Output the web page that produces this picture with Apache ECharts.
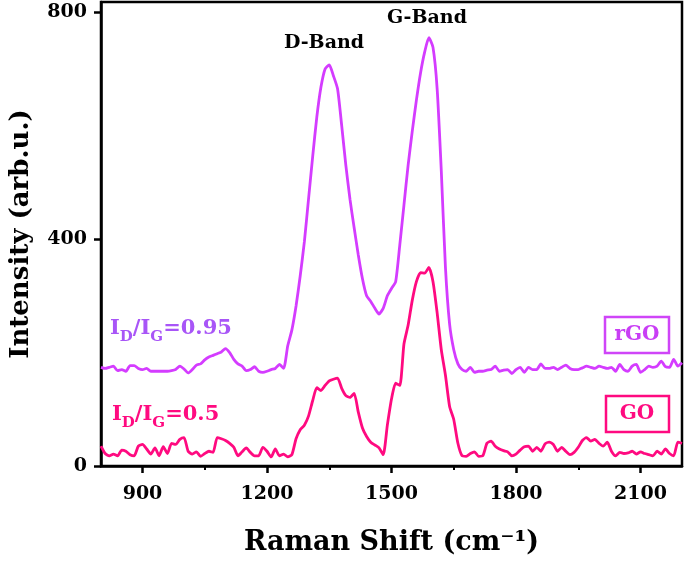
<!DOCTYPE html>
<html><head><meta charset="utf-8">
<script src="https://cdn.jsdelivr.net/npm/echarts@6/dist/echarts.min.js"></script>
<style>html,body{margin:0;padding:0;background:#fff}#c{width:685px;height:561px}</style>
</head><body><div id="c"></div>
<script>
const ramanShift = [800,810,820,830,840,850,860,870,880,890,900,910,920,930,940,950,960,970,980,990,
1000,1010,1020,1030,1040,1050,1060,1070,1080,1090,1100,1110,1120,1130,1140,1150,1160,1170,1180,1190,
1200,1210,1220,1230,1240,1250,1260,1270,1280,1290,1300,1310,1320,1330,1340,1350,1360,1370,1380,1390,
1400,1410,1420,1430,1440,1450,1460,1470,1480,1490,1500,1510,1520,1530,1540,1550,1560,1570,1580,1590,
1600,1610,1620,1630,1640,1650,1660,1670,1680,1690,1700,1710,1720,1730,1740,1750,1760,1770,1780,1790,
1800,1810,1820,1830,1840,1850,1860,1870,1880,1890,1900,1910,1920,1930,1940,1950,1960,1970,1980,1990,
2000,2010,2020,2030,2040,2050,2060,2070,2080,2090,2100,2110,2120,2130,2140,2150,2160,2170,2180,2190,2200];

const rGO = [174,172,174,176,168,170,167,177,177,172,170,172,167,167,167,167,167,168,170,176,
171,164,170,178,180,187,192,195,198,201,207,200,188,180,176,168,170,175,167,165,
167,170,172,179,172,212,240,282,335,395,470,545,615,668,700,707,688,665,600,530,
470,420,372,330,300,290,278,268,278,300,313,325,390,460,530,590,645,693,730,755,
738,665,520,350,250,205,180,170,167,174,165,167,167,169,170,176,167,169,170,163,
170,174,165,174,170,170,180,172,172,174,170,174,178,172,170,170,173,176,174,172,
176,174,172,174,167,179,170,167,176,179,165,170,176,174,176,185,175,174,188,176,182];

const GO = [35,22,18,21,18,28,26,20,18,35,38,30,21,32,18,34,22,40,38,47,
50,26,21,25,17,22,26,24,50,48,45,40,33,18,25,32,24,18,18,33,
26,16,30,18,21,16,20,48,64,72,88,115,138,133,142,150,153,155,137,124,
121,128,95,67,52,42,37,32,20,72,118,146,142,215,248,292,325,341,340,350,
325,270,205,160,105,82,40,18,17,22,25,17,18,40,44,35,30,27,25,18,
21,28,34,35,26,33,26,39,42,38,26,33,26,20,24,33,45,50,44,47,
40,35,42,26,18,24,22,23,26,21,25,22,20,18,26,21,30,22,18,42,40];

const xTickLabels = [900,1200,1500,1800,2100];
const xMinorTicks = [1050,1350,1650,1950];
const yTickLabels = [0,400,800];

const FONT = 'DejaVu Serif';
const C_RGO = '#D43CFF';
const C_RGO_TXT = '#A855F7';
const C_GO = '#FF0A80';

const measureCtx = document.createElement('canvas').getContext('2d');
function textW(t, size) {
  measureCtx.font = 'bold ' + size + 'px "DejaVu Serif"';
  return measureCtx.measureText(t).width;
}
function ratioLabel(x0, yMid, pieces, color) {
  const out = [];
  let x = x0;
  pieces.forEach(([t, sub]) => {
    const size = sub ? 15 : 21;
    out.push({type: 'text', x: x, y: sub ? yMid + 8 : yMid,
      style: {text: t, fill: color, font: 'bold ' + size + 'px "DejaVu Serif"', textAlign: 'left', textVerticalAlign: 'middle'}});
    x += textW(t, size);
  });
  return out;
}

const chart = echarts.init(document.getElementById('c'), null, {renderer:'canvas'});
const axisFont = {fontFamily: FONT, fontWeight: 'bold', color: '#000'};

chart.setOption({
  animation: false,
  backgroundColor: '#fff',
  grid: {left: 100, right: 3, top: 2, bottom: 93, show: true, borderColor: '#000', borderWidth: 2.5, backgroundColor: 'transparent'},
  xAxis: [{
    type: 'value', min: 800, max: 2200, position: 'bottom',
    axisLine: {show: true, onZero: false, lineStyle: {color: '#000', width: 2.5}},
    axisTick: {show: true, customValues: xTickLabels, length: 7, lineStyle: {color: '#000', width: 2.5}},
    axisLabel: Object.assign({customValues: xTickLabels, margin: 19, fontSize: 19, formatter: v => String(v)}, axisFont),
    splitLine: {show: false},
    name: 'Raman Shift (cm\u207B\u00B9)', nameLocation: 'middle', nameGap: 63,
    nameTextStyle: Object.assign({fontSize: 27}, axisFont)
  }, {
    type: 'value', min: 800, max: 2200, position: 'bottom',
    axisLine: {show: false, onZero: false},
    axisTick: {show: true, customValues: xMinorTicks, length: 4, lineStyle: {color: '#000', width: 2}},
    axisLabel: {show: false},
    splitLine: {show: false}
  }],
  yAxis: {
    type: 'value', min: 0, max: 818,
    axisLine: {show: true, lineStyle: {color: '#000', width: 2.5}},
    axisTick: {show: true, customValues: yTickLabels, length: 7, lineStyle: {color: '#000', width: 2.5}},
    axisLabel: Object.assign({customValues: yTickLabels, margin: 14, fontSize: 19, formatter: v => String(v)}, axisFont),
    splitLine: {show: false},
    name: 'Intensity (arb.u.)', nameLocation: 'middle', nameGap: 67,
    nameTextStyle: Object.assign({fontSize: 26}, axisFont)
  },
  series: [{
    name: 'rGO', type: 'line', xAxisIndex: 0, showSymbol: false, smooth: 0.2,
    data: ramanShift.map((x, i) => [x, rGO[i]]),
    lineStyle: {color: C_RGO, width: 2.8}, itemStyle: {color: C_RGO}, z: 3
  }, {
    name: 'GO', type: 'line', xAxisIndex: 0, showSymbol: false, smooth: 0.2,
    data: ramanShift.map((x, i) => [x, GO[i]]),
    lineStyle: {color: C_GO, width: 2.8}, itemStyle: {color: C_GO}, z: 4
  }],
  graphic: [
    {type: 'text', x: 324, y: 43, style: {text: 'D-Band', fill: '#000', font: 'bold 19px "DejaVu Serif"', textAlign: 'center', textVerticalAlign: 'middle'}},
    {type: 'text', x: 427, y: 18, style: {text: 'G-Band', fill: '#000', font: 'bold 19px "DejaVu Serif"', textAlign: 'center', textVerticalAlign: 'middle'}},
    ...ratioLabel(110, 329, [['I', false], ['D', true], ['/I', false], ['G', true], ['=0.95', false]], C_RGO_TXT),
    ...ratioLabel(112, 415, [['I', false], ['D', true], ['/I', false], ['G', true], ['=0.5', false]], C_GO),
    {type: 'rect', shape: {x: 605, y: 317, width: 64, height: 36}, style: {fill: '#fff', stroke: '#CF45F8', lineWidth: 2.5}},
    {type: 'text', x: 637, y: 335, style: {text: 'rGO', fill: '#C93EF5', font: 'bold 20px "DejaVu Serif"', textAlign: 'center', textVerticalAlign: 'middle'}},
    {type: 'rect', shape: {x: 606, y: 396, width: 63, height: 36}, style: {fill: '#fff', stroke: C_GO, lineWidth: 2.5}},
    {type: 'text', x: 637, y: 414, style: {text: 'GO', fill: C_GO, font: 'bold 20px "DejaVu Serif"', textAlign: 'center', textVerticalAlign: 'middle'}}
  ]
});
</script>
</body></html>
